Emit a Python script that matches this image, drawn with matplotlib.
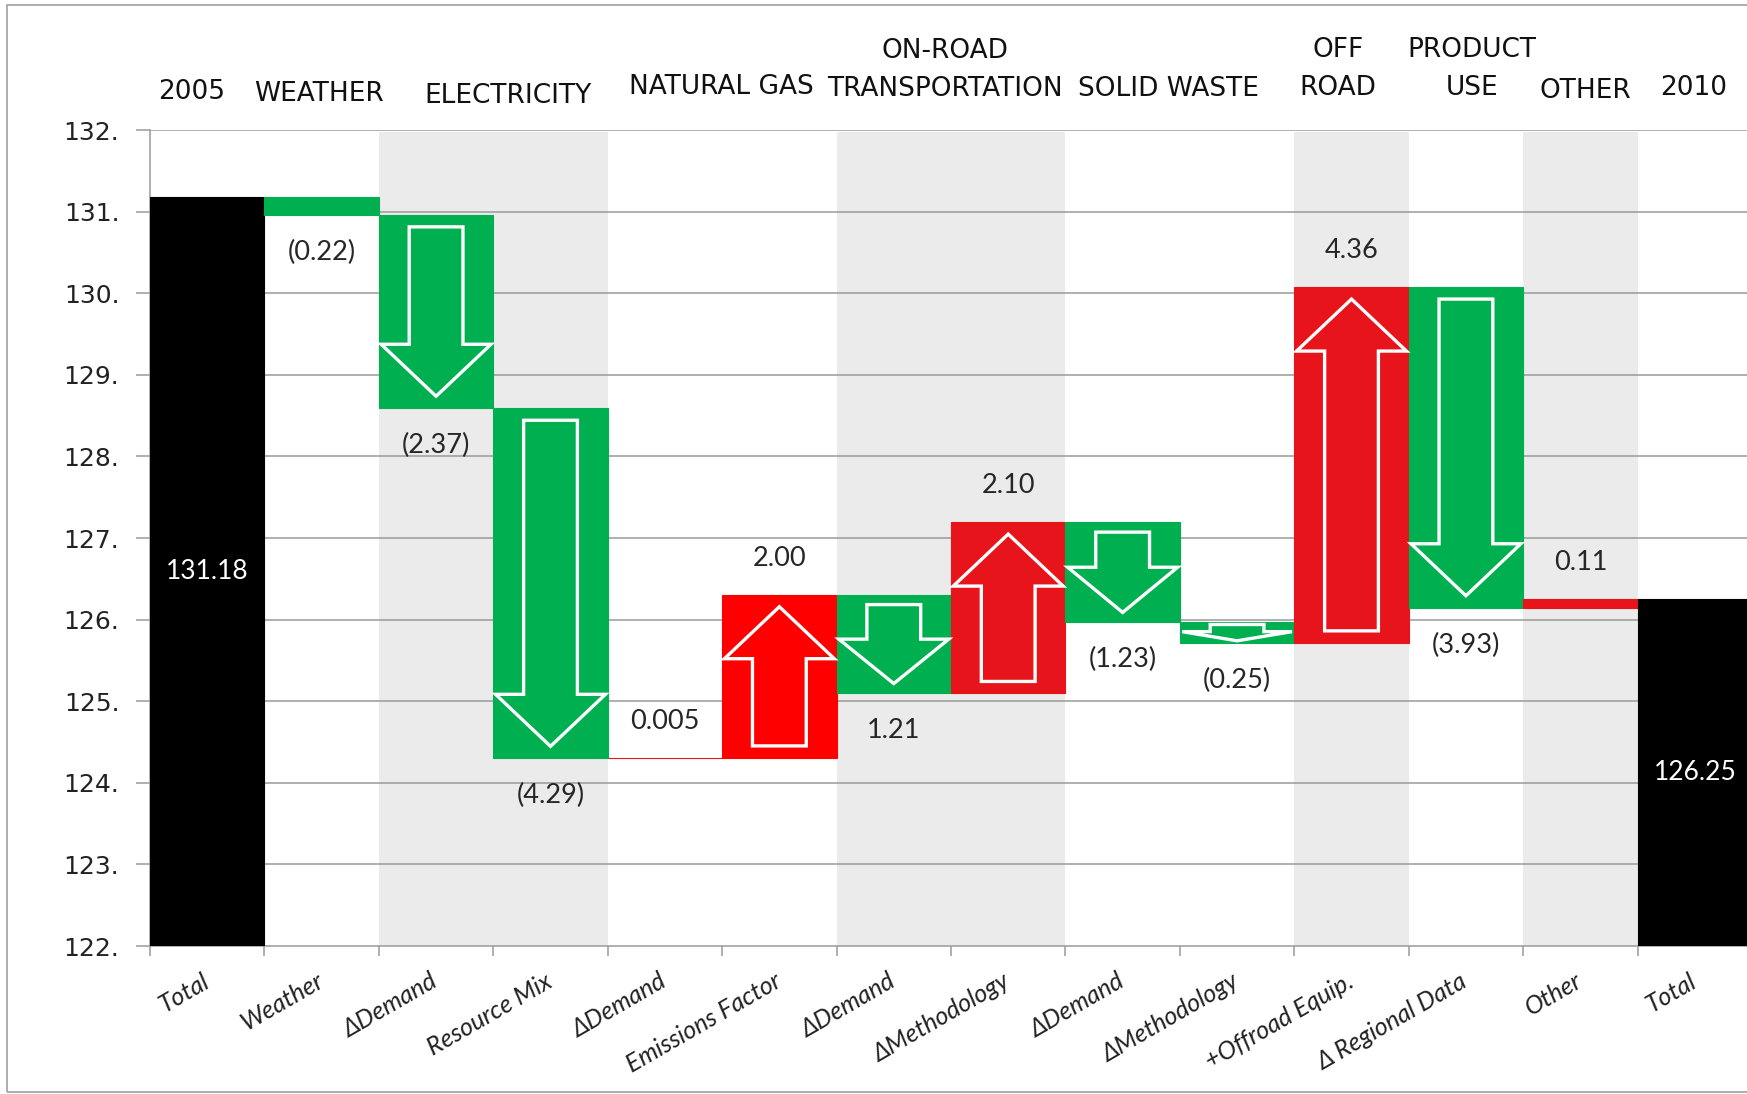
import matplotlib
matplotlib.use('Agg')
import matplotlib.pyplot as plt
from matplotlib.patches import Polygon, Rectangle
from matplotlib.ticker import FuncFormatter
import numpy as np

# datos del grafico de cascada
categorias = ['Total', 'Weather', '\u0394Demand', 'Resource Mix', '\u0394Demand',
              'Emissions Factor', '\u0394Demand', '\u0394Methodology', '\u0394Demand',
              '\u0394Methodology', '+Offroad Equip.', '\u0394 Regional Data', 'Other', 'Total']
inicio = 131.18
cambios = [-0.22, -2.37, -4.29, 0.005, 2.00, -1.21, 2.10, -1.23, -0.25, 4.36, -3.93, 0.11]
final = 126.25
etiquetas = ['131.18', '(0.22)', '(2.37)', '(4.29)', '0.005', '2.00', '1.21', '2.10',
             '(1.23)', '(0.25)', '4.36', '(3.93)', '0.11', '126.25']

# encabezados de grupo: (texto, x en ranuras, y en px de la imagen)
encabezados = [('2005', 0.36, 83), ('WEATHER', 1.48, 84), ('ELECTRICITY', 3.13, 86),
               ('NATURAL GAS', 4.99, 78), ('ON-ROAD', 6.95, 46), ('TRANSPORTATION', 6.95, 80),
               ('SOLID WASTE', 8.9, 80), ('OFF', 10.38, 45), ('ROAD', 10.38, 79),
               ('PRODUCT', 11.55, 45), ('USE', 11.55, 79), ('OTHER', 12.54, 82),
               ('2010', 13.49, 79)]
bandas_grises = [(2, 4), (6, 8), (10, 11), (12, 13)]

y_min, y_max = 122, 132

verde = '#00B050'
rojo = '#E8141B'
rojo_vivo = '#FF0000'
negro = '#000000'
gris_linea = '#9A9A9A'

W, H = 1747, 1094
fig = plt.figure(figsize=(W / 100., H / 100.), dpi=100)
# ([borde izq, borde inf, ancho, alto]) tomados de la imagen
ax = fig.add_axes([150. / W, 1 - 946. / H, (1752. - 150.) / W, (946. - 130.) / H])

n = len(categorias)
X = np.arange(n) + 0.5

# base y altura de cada barra
bases = [y_min]
alturas = [inicio - y_min]
colores = [negro]
acum = inicio
for i, c in enumerate(cambios):
    nuevo = acum + c
    bases.append(min(acum, nuevo))
    alturas.append(abs(c))
    if c < 0:
        colores.append(verde)
    elif i == 4:
        colores.append(rojo_vivo)
    else:
        colores.append(rojo)
    acum = nuevo
bases.append(y_min)
alturas.append(final - y_min)
colores.append(negro)

# bandas grises de fondo
for a, b in bandas_grises:
    ax.axvspan(a, b, ymin=0, ymax=0.998, facecolor='#EBEBEB', edgecolor='none', zorder=0)

for v in range(y_min + 1, y_max + 1):
    ax.axhline(v, color=gris_linea, lw=1.1, zorder=1)

ax.bar(X, alturas, bottom=bases, width=1.0, color=colores, edgecolor=colores,
       linewidth=0.8, zorder=3)

ax.set_xlim(0, n)
ax.set_ylim(y_min, y_max)

# flechas blancas dentro de las barras de cambio
pos = ax.get_position()
px_x = pos.width * W / n
px_y = pos.height * H / (y_max - y_min)
for i, c in enumerate(cambios):
    if abs(c) < 0.24:
        continue
    k = i + 1
    b = bases[k]
    t = b + alturas[k]
    h_px = alturas[k] * px_y
    margen = min(12, 0.1 * h_px) / px_y
    cabeza = min(52, 0.45 * h_px) / px_y
    hw = 0.48
    sw = 0.235
    cx = X[k]
    if c < 0:
        punta = b + margen
        base_c = punta + cabeza
        cola = t - margen
    else:
        punta = t - margen
        base_c = punta - cabeza
        cola = b + margen
    pts = [(cx - sw, cola), (cx + sw, cola), (cx + sw, base_c), (cx + hw, base_c),
           (cx, punta), (cx - hw, base_c), (cx - sw, base_c)]
    ax.add_patch(Polygon(pts, closed=True, facecolor=colores[k], edgecolor='white',
                         lw=2.4, joinstyle='miter', zorder=4))

# etiquetas de valores
fuente_val = ['Lato', 'DejaVu Sans']
for k in range(n):
    if k == 0 or k == n - 1:
        ax.text(X[k], bases[k] + alturas[k] / 2., etiquetas[k], ha='center', va='center',
                color='white', fontsize=19, family=fuente_val, zorder=5)
        continue
    c = cambios[k - 1]
    if c < 0:
        y = bases[k]
        dy = -27
    else:
        y = bases[k] + alturas[k]
        dy = 26
    ax.annotate(etiquetas[k], (X[k], y), xytext=(0, dy), textcoords='offset points',
                ha='center', va='center', fontsize=19.5, color='#262626',
                family=fuente_val, zorder=5)

# encabezados arriba del grafico
alto_ax = 946. - 130.
fuente_enc = ['Liberation Sans Narrow', 'DejaVu Sans']
for texto, xs, ypx in encabezados:
    ax.text(xs, 1 + (130. - ypx * 1.1142) / alto_ax, texto, transform=ax.get_xaxis_transform(),
            ha='center', va='center', fontsize=19, color='#111111', family=fuente_enc,
            clip_on=False)

# ejes
for s in ['top', 'right']:
    ax.spines[s].set_visible(False)
for s in ['left', 'bottom']:
    ax.spines[s].set_color(gris_linea)
    ax.spines[s].set_linewidth(1.1)
    ax.spines[s].set_zorder(2)

ax.set_yticks(range(y_min, y_max + 1))
ax.yaxis.set_major_formatter(FuncFormatter(lambda v, p: '%d.' % v))
ax.tick_params(axis='y', length=10, width=1.1, color=gris_linea, labelsize=18,
               labelcolor='#222222', pad=12)

ax.set_xticks(np.arange(n + 1))
ax.set_xticklabels([])
ax.tick_params(axis='x', which='major', length=7, width=1.1, color=gris_linea)
ax.set_xticks(X, minor=True)
ax.set_xticklabels(categorias, minor=True, rotation=30, ha='right', va='center',
                   rotation_mode='anchor', fontsize=18, style='italic', family=fuente_val,
                   color='#222222')
ax.tick_params(axis='x', which='minor', length=0, pad=24)

# marco gris de la figura
fig.patches.append(Rectangle((7. / W, 2. / H), 1.2, 1 - 7. / H, transform=fig.transFigure,
                             fill=False, edgecolor='#A0A0A0', lw=1.2))

plt.savefig('out.png', dpi=100)
